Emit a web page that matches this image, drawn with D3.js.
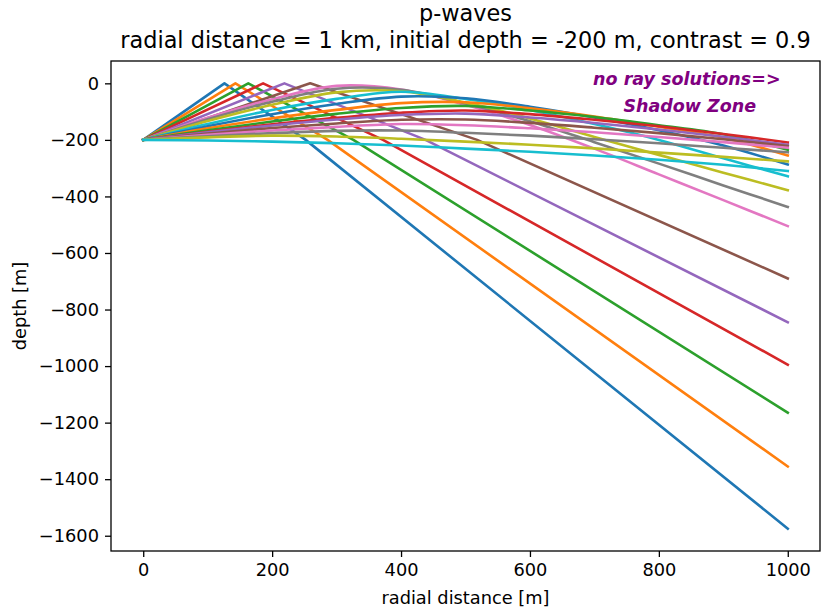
<!DOCTYPE html>
<html>
<head>
<meta charset="utf-8">
<script src="https://cdn.jsdelivr.net/npm/d3@7"></script>
<style>
  body { margin: 0; background: #fff; }
  text { font-family: "DejaVu Sans", sans-serif; }
</style>
</head>
<body>
<div id="chart"></div>
<script>
// rays bouncing off the surface: x of the bounce point and depth reached at x = 1000
const sourceDepth = -200;
const reflectKinkX = [126, 143, 163, 186, 219, 259];
const reflectEndDepth = [-1575, -1355, -1165, -995, -845, -690];

// curved (turning) rays, depth read every 100 m
const curveX = [0, 100, 200, 300, 400, 500, 600, 700, 800, 900, 1000];
const curvedDepths = [
  [-200, -122, -56, -9, -22, -76, -147, -231, -322, -413, -505],
  [-200, -127, -65, -19, -23, -71, -134, -208, -284, -361, -437],
  [-200, -133, -76, -32, -28, -68, -124, -190, -253, -316, -378],
  [-200, -144, -94, -55, -30, -55, -94, -144, -200, -265, -329],
  [-200, -152, -109, -73, -47, -53, -83, -121, -166, -220, -287],
  [-200, -159, -124, -94, -70, -67, -88, -117, -153, -192, -255],
  [-200, -166, -135, -108, -87, -80, -96, -119, -148, -180, -235],
  [-200, -171, -145, -122, -104, -96, -109, -129, -152, -179, -209],
  [-200, -173, -149, -128, -112, -107, -121, -140, -163, -189, -217],
  [-200, -178, -158, -142, -129, -128, -140, -157, -176, -198, -222],
  [-200, -182, -167, -154, -144, -148, -159, -173, -190, -208, -228],
  [-200, -187, -176, -168, -167, -175, -185, -198, -212, -228, -244],
  [-200, -191, -185, -188, -196, -206, -217, -230, -245, -260, -276],
  [-200, -202, -206, -212, -220, -231, -242, -255, -270, -288, -310]
];

const xTicks = [0, 200, 400, 600, 800, 1000];
const yTicks = [0, -200, -400, -600, -800, -1000, -1200, -1400, -1600];

const W = 821, H = 607;
const L = 111, R = 820, T = 61, B = 551;

const svg = d3.select("#chart").append("svg")
  .attr("width", W)
  .attr("height", H);

svg.append("rect").attr("width", W).attr("height", H).attr("fill", "#fff");

const x = d3.scaleLinear().domain([-50, 1050]).range([L, R]);
const y = d3.scaleLinear().domain([-1654, 79]).range([B, T]);

svg.append("clipPath").attr("id", "plotclip")
  .append("rect")
  .attr("x", L).attr("y", T)
  .attr("width", R - L).attr("height", B - T);

// build ray paths
var rays = [];
reflectKinkX.forEach(function(k, i) {
  rays.push({
    pts: [[0, sourceDepth], [k, 0], [2 * k, sourceDepth], [1000, reflectEndDepth[i]]],
    curved: false
  });
});
curvedDepths.forEach(function(ds) {
  rays.push({ pts: ds.map(function(d, j) { return [curveX[j], d]; }), curved: true });
});

var straight = d3.line().x(d => x(d[0])).y(d => y(d[1]));
var smooth = d3.line().x(d => x(d[0])).y(d => y(d[1])).curve(d3.curveCatmullRom.alpha(0.5));

svg.append("g")
  .attr("clip-path", "url(#plotclip)")
  .selectAll("path")
  .data(rays)
  .enter()
  .append("path")
  .attr("d", d => d.curved ? smooth(d.pts) : straight(d.pts))
  .attr("fill", "none")
  .attr("stroke", (d, i) => d3.schemeCategory10[i % 10])
  .attr("stroke-width", 2.6)
  .attr("stroke-linejoin", "round")
  .attr("stroke-linecap", "square");

// axes
var fmt = d3.format("d");
var gx = svg.append("g")
  .attr("transform", "translate(0," + B + ")")
  .call(d3.axisBottom(x).tickValues(xTicks).tickFormat(fmt).tickSize(6).tickPadding(6));
var gy = svg.append("g")
  .attr("transform", "translate(" + L + ",0)")
  .call(d3.axisLeft(y).tickValues(yTicks).tickFormat(fmt).tickSize(6).tickPadding(6));

[gx, gy].forEach(function(g) {
  g.select(".domain").remove();
  g.selectAll(".tick line").attr("stroke", "#000").attr("stroke-width", 1.3);
  g.selectAll(".tick text")
    .attr("fill", "#000")
    .style("font-size", "17.8px")
    .style("font-family", "'DejaVu Sans', sans-serif");
});

svg.append("rect")
  .attr("x", L).attr("y", T)
  .attr("width", R - L).attr("height", B - T)
  .attr("fill", "none")
  .attr("stroke", "#000")
  .attr("stroke-width", 1.3);

// labels
svg.append("text")
  .attr("x", (L + R) / 2).attr("y", 604)
  .attr("text-anchor", "middle")
  .style("font-size", "17.8px")
  .text("radial distance [m]");

svg.append("text")
  .attr("transform", "translate(26," + (T + B) / 2 + ") rotate(-90)")
  .attr("text-anchor", "middle")
  .style("font-size", "17.8px")
  .text("depth [m]");

svg.append("text")
  .attr("x", (L + R) / 2).attr("y", 21)
  .attr("text-anchor", "middle")
  .style("font-size", "22.4px")
  .text("p-waves");

svg.append("text")
  .attr("x", (L + R) / 2).attr("y", 48)
  .attr("text-anchor", "middle")
  .style("font-size", "22.4px")
  .text("radial distance = 1 km, initial depth = -200 m, contrast = 0.9");

// shadow zone note
svg.append("text")
  .attr("x", x(698)).attr("y", y(-7))
  .attr("fill", "purple")
  .style("font-size", "17.5px")
  .style("font-weight", "bold")
  .style("font-style", "italic")
  .text("no ray solutions=>");

svg.append("text")
  .attr("x", x(745)).attr("y", y(-102))
  .attr("fill", "purple")
  .style("font-size", "17.5px")
  .style("font-weight", "bold")
  .style("font-style", "italic")
  .text("Shadow Zone");
</script>
</body>
</html>
